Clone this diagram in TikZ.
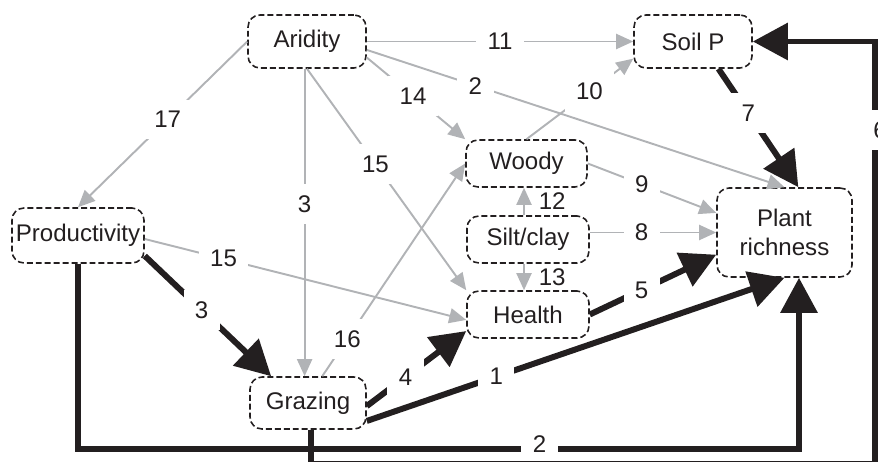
\documentclass[tikz,border=0pt]{standalone}
\usepackage{fontspec}
\setmainfont{Liberation Sans}
\usetikzlibrary{arrows.meta}
\definecolor{inkblack}{RGB}{35,31,32}
\definecolor{linkgray}{RGB}{177,179,182}
\tikzset{factor/.style={draw=inkblack, dash pattern=on 3.4pt off 1.7pt, line width=0.9pt, rounded corners=0.24cm, inner xsep=1pt, inner ysep=1pt, align=center, text=inkblack}}
\tikzset{weak/.style={draw=linkgray, line width=1.1pt, -{Triangle[length=0.34cm, width=0.3cm]}}}
\tikzset{strong/.style={draw=inkblack, line width=3.4pt, -{Triangle[length=0.7cm, width=0.72cm]}}}
\tikzset{coef/.style={fill=white, inner sep=6.5pt, text=inkblack}}

\begin{document}
\begin{tikzpicture}[x=0.02cm, y=-0.02cm, font=\fontsize{13.7}{16.4}\selectfont]
            \clip (0,0) rectangle (878,462);
            \node[factor, minimum width=2.36cm, minimum height=1.06cm] (arid) at (307,41.5) {Aridity};
            \node[factor, minimum width=2.36cm, minimum height=1.06cm] (soil) at (693,41.5) {Soil P};
            \node[factor, minimum width=2.42cm, minimum height=0.94cm] (woody) at (526.5,163.5) {Woody};
            \node[factor, minimum width=2.44cm, minimum height=0.94cm] (silt) at (528,239.5) {Silt/clay};
            \node[factor, minimum width=2.44cm, minimum height=0.94cm] (health) at (528,314.5) {Health};
            \node[factor, minimum width=2.7cm, minimum height=1.78cm] (plant) at (784.5,232.5) {Plant\\richness};
            \node[factor, minimum width=2.64cm, minimum height=1.1cm] (prod) at (78,235.5) {Productivity};
            \node[factor, minimum width=2.32cm, minimum height=1.04cm] (graz) at (308,403) {Grazing};
            \draw[weak] (arid.east) -- (soil.west) node[coef, pos=0.5] {11};
            \draw[weak] (arid.-8) -- (plant.north) node[coef, pos=0.26] {2};
            \draw[weak] (arid.-15) -- (woody.north west) node[coef, pos=0.47] {14};
            \draw[weak] (arid.south) -- (health.north west) node[coef, pos=0.43] {15};
            \draw[weak] (arid.-95) -- (arid.-95 |- graz.north) node[coef, pos=0.44] {3};
            \draw[weak] (arid.west) -- (prod.north) node[coef, pos=0.47] {17};
            \draw[weak] (woody.north) -- (soil.196) node[coef, pos=0.59] {10};
            \draw[weak] (graz.62) -- (woody.west) node[coef, pos=0.175] {16};
            \draw[weak] (prod.-3) -- (health.185) node[coef, pos=0.245] {15};
            \draw[weak] (woody.east) -- (plant.164) node[coef, pos=0.42] {9};
            \draw[weak] (silt.east |- plant.west) -- (plant.west) node[coef, pos=0.41] {8};
            \draw[weak] ([xshift=-0.08cm]silt.north) -- ([xshift=-0.08cm]silt.north |- woody.south) node[midway, right=0.16cm, text=inkblack] {12};
            \draw[weak] ([xshift=-0.08cm]silt.south) -- ([xshift=-0.08cm]silt.south |- health.north) node[midway, right=0.16cm, text=inkblack] {13};
            \draw[strong] (soil.-47) -- (plant.73) node[coef, pos=0.375] {7};
            \draw[strong] (prod.-17) -- (graz.144) node[coef, pos=0.45] {3};
            \draw[strong] (graz.-3) -- (health.195) node[coef, pos=0.39] {4};
            \draw[strong] (graz.-17) -- (plant.south) node[coef, pos=0.31] {1};
            \draw[strong] (health.east) -- (plant.198) node[coef, pos=0.41] {5};
            \coordinate (bend2) at (799,449);
            \draw[strong] (prod.south) |- (bend2) node[coef, pos=0.82, yshift=0.1cm] {2} -- (bend2 |- plant.south);
            \coordinate (bend6) at (875,463.5);
            \draw[strong] ([xshift=0.06cm]graz.south) |- (bend6) -- (bend6 |- soil.east) node[coef, pos=0.79, xshift=0.1cm] {6} -- (soil.east);
        \end{tikzpicture}
\end{document}
